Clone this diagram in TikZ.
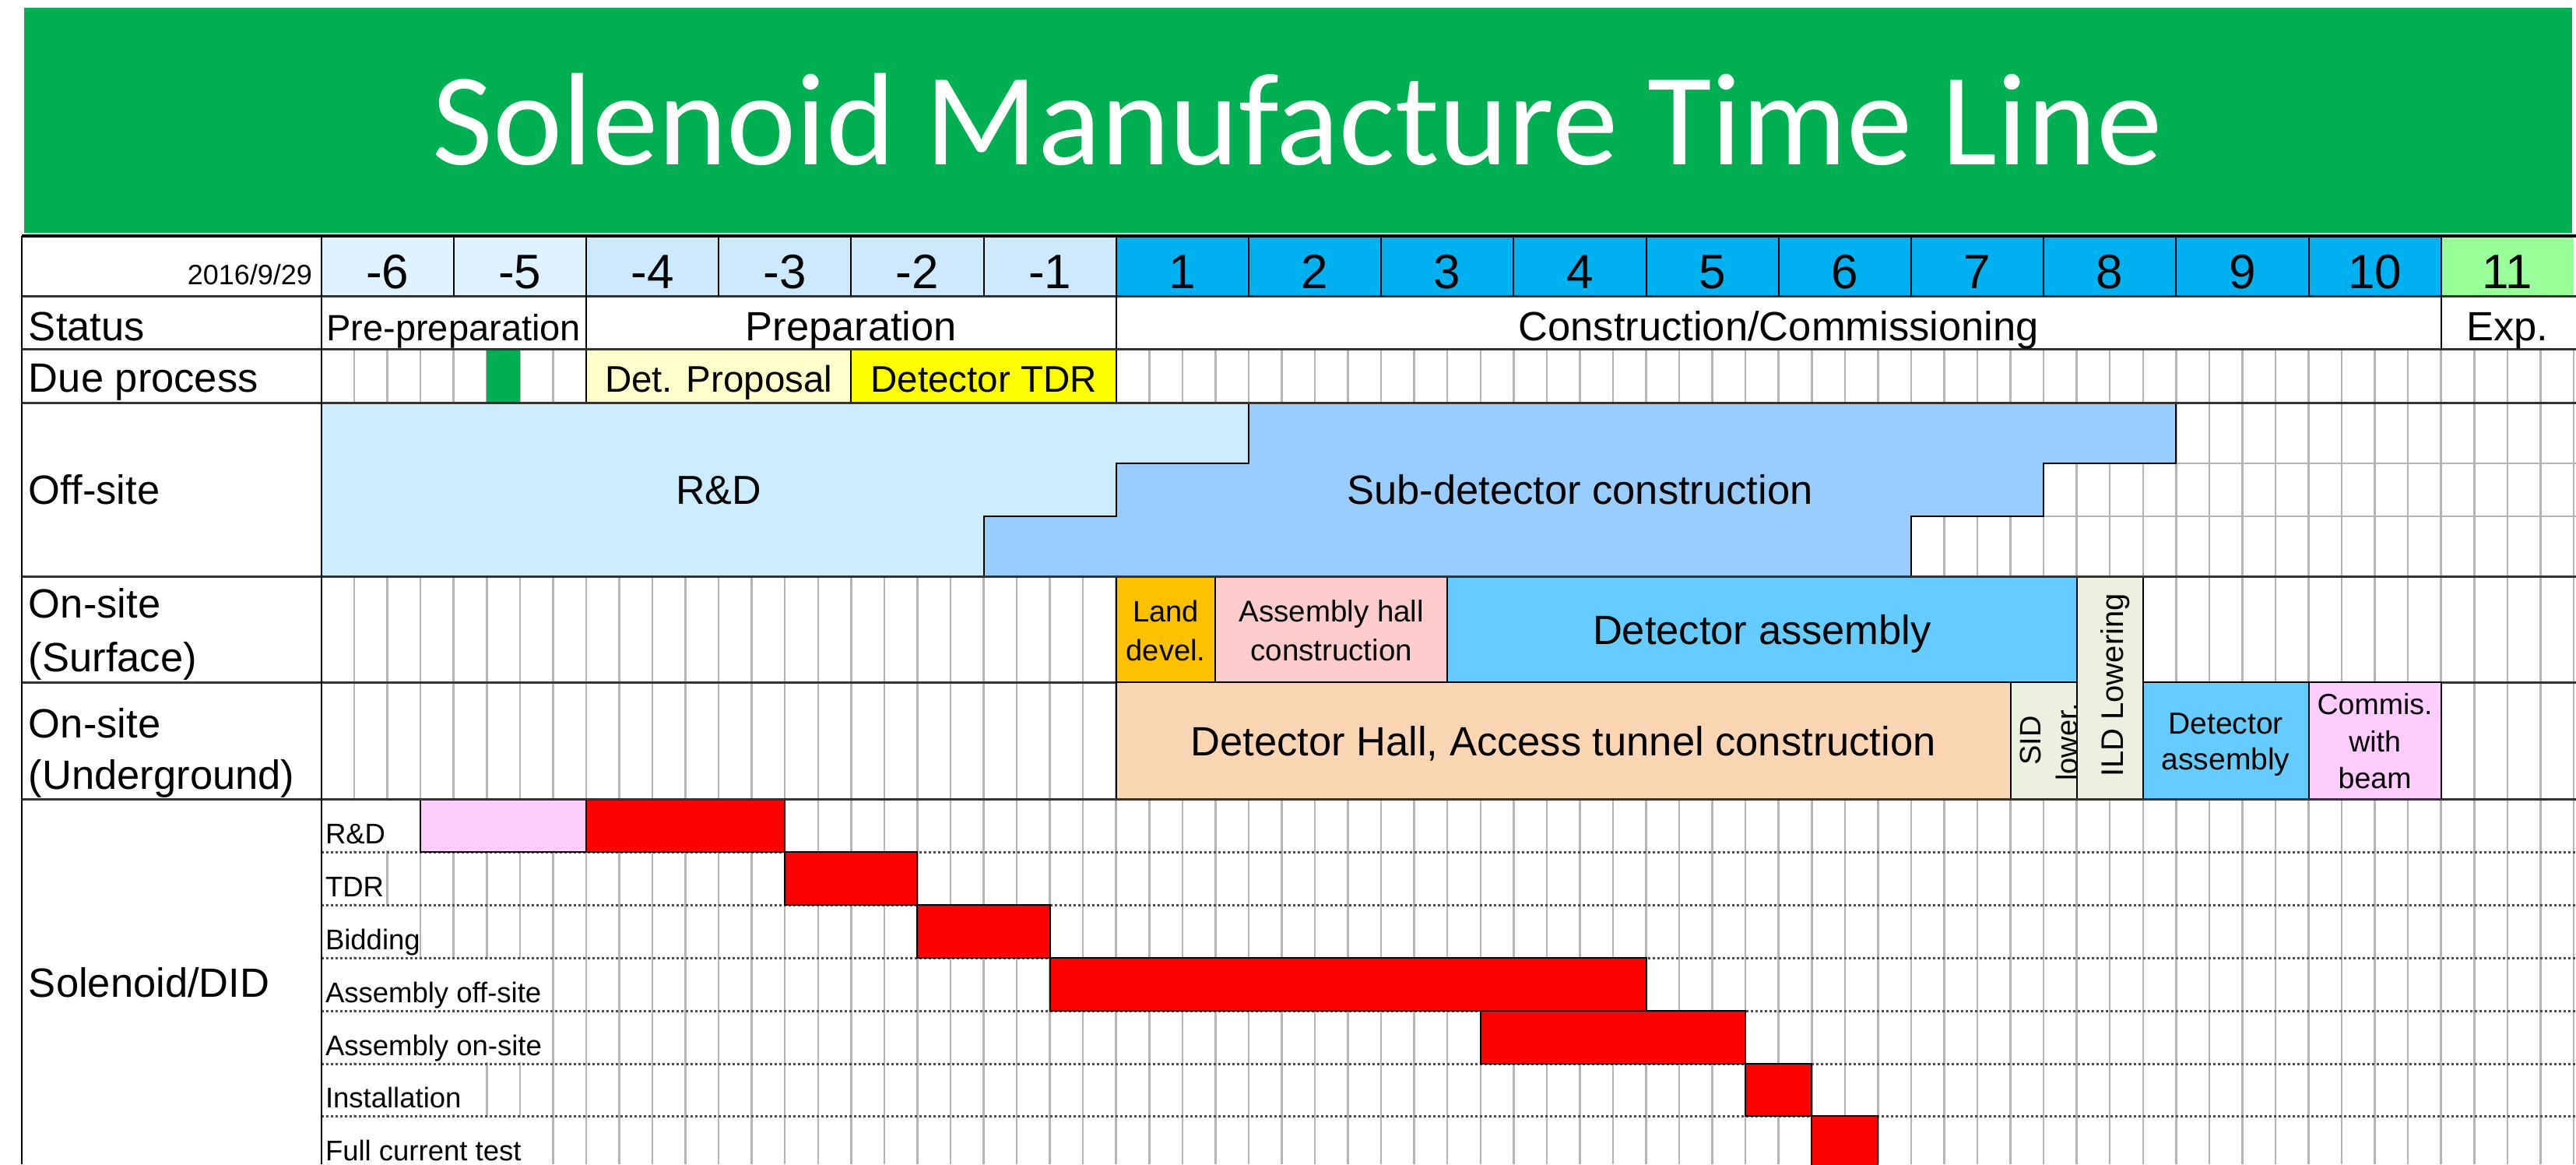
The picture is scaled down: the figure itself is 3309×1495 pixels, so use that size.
\documentclass[tikz,border=0pt]{standalone}
\usepackage{fontspec}
\setmainfont{Liberation Sans}
\newfontfamily\titlefont{Carlito}
\definecolor{ttlgreen}{HTML}{00B050}
\definecolor{hdrA}{HTML}{DFF2FF}
\definecolor{hdrB}{HTML}{CCE9FD}
\definecolor{hdrC}{HTML}{00B0F0}
\definecolor{hdrD}{HTML}{99FF99}
\definecolor{propY}{HTML}{FFFFCC}
\definecolor{tdrY}{HTML}{FFFF00}
\definecolor{rdBlue}{HTML}{CCECFF}
\definecolor{subBlue}{HTML}{99CCFF}
\definecolor{landOr}{HTML}{FFC000}
\definecolor{hallPink}{HTML}{FFCCCC}
\definecolor{assyBlue}{HTML}{66CCFF}
\definecolor{tunnel}{HTML}{FCD5B4}
\definecolor{lowerG}{HTML}{EBF1DE}
\definecolor{commPink}{HTML}{FFCCFF}
\definecolor{barRed}{HTML}{FF0000}
\definecolor{gridG}{HTML}{B4B4B4}
\newcommand{\qx}[1]{(412.5+42.55*(#1))}
\newcommand{\fsz}[1]{\fontsize{#1}{#1}\selectfont}
\newcommand{\qbox}[5]{\draw[box,fill=#5] ({\qx{#1}},#3) rectangle ({\qx{#2}},#4);}
\tikzset{
  gridline/.style={draw=gridG, line width=0.5pt},
  dotline/.style={draw=black!70, line width=0.6pt, dash pattern=on 0.6pt off 0.6pt},
  rowline/.style={draw=black!80, line width=0.6pt},
  hdrline/.style={draw=black, line width=0.4pt},
  topline/.style={draw=black, line width=0.8pt},
  box/.style={draw=black, line width=0.4pt},
  lbl/.style={anchor=base west, inner sep=0pt},
  ctr/.style={anchor=base, inner sep=0pt},
}
\begin{document}
\begin{tikzpicture}[x=0.2pt,y=-0.2pt]
\useasboundingbox (0,0) rectangle (3309,1495);
\clip (0,0) rectangle (3309,1495);
\fill[white] (0,0) rectangle (3309,1495);
% title banner
\fill[ttlgreen] (31,10) rectangle (3304,299);
\node[ctr, text=white, font=\titlefont\fsz{33.8}] (title) at (1667,211) {Solenoid Manufacture Time Line};
% header fills
\fill[hdrA] ({\qx{0}},303) rectangle ({\qx{8}},380);
\fill[hdrB] ({\qx{8}},303) rectangle ({\qx{24}},380);
\fill[hdrC] ({\qx{24}},303) rectangle ({\qx{64}},380);
\fill[hdrD] ({\qx{64}},303) rectangle ({\qx{68}},380);
% quarter grid
\foreach \i in {1,...,68} \draw[gridline] ({\qx{\i}},448) -- ({\qx{\i}},1495);
\draw[gridline] ({\qx{0}},595) -- (3309,595);
\draw[gridline] ({\qx{0}},663) -- (3309,663);
% white patches behind overflowing sub-labels
\fill[white] (414,1028) rectangle ({\qx{3}-1.5},1092);
\fill[white] (414,1096) rectangle ({\qx{2}-1.5},1160);
\fill[white] (414,1164) rectangle ({\qx{3}-1.5},1228);
\fill[white] (414,1232) rectangle ({\qx{7}-1.5},1296);
\fill[white] (414,1300) rectangle ({\qx{7}-1.5},1364);
\fill[white] (414,1368) rectangle ({\qx{5}-1.5},1431);
\fill[white] (414,1435) rectangle ({\qx{7}-1.5},1495);
% dotted sub-row lines
\foreach \yy in {1094,1162,1230,1298,1366,1433} \draw[dotline] ({\qx{0}},\yy) -- (3309,\yy);
\draw[rowline] (28,876) -- (3309,876);
% due process
\fill[ttlgreen] ({\qx{5}},449) rectangle ({\qx{6}},516);
\qbox{8}{16}{448}{517}{propY}
\qbox{16}{24}{448}{517}{tdrY}
% off-site staircase
\fill[rdBlue] ({\qx{0}},517) -- ({\qx{28}},517) -- ({\qx{28}},595) -- ({\qx{24}},595) -- ({\qx{24}},663) -- ({\qx{20}},663) -- ({\qx{20}},740) -- ({\qx{0}},740) -- cycle;
\draw[box,fill=subBlue] ({\qx{28}},517) -- ({\qx{56}},517) -- ({\qx{56}},595) -- ({\qx{52}},595) -- ({\qx{52}},663) -- ({\qx{48}},663) -- ({\qx{48}},740) -- ({\qx{20}},740) -- ({\qx{20}},663) -- ({\qx{24}},663) -- ({\qx{24}},595) -- ({\qx{28}},595) -- cycle;
% on-site surface
\qbox{24}{27}{740}{876}{landOr}
\qbox{27}{34}{740}{876}{hallPink}
\qbox{34}{53}{740}{876}{assyBlue}
\qbox{53}{55}{740}{1026}{lowerG}
% on-site underground
\qbox{24}{51}{876}{1026}{tunnel}
\qbox{51}{53}{876}{1026}{lowerG}
\qbox{55}{60}{876}{1026}{assyBlue}
\qbox{60}{64}{876}{1026}{commPink}
% solenoid bars
\qbox{3}{8}{1026}{1094}{commPink}
\qbox{8}{14}{1026}{1094}{barRed}
\qbox{14}{18}{1094}{1162}{barRed}
\qbox{18}{22}{1162}{1230}{barRed}
\qbox{22}{40}{1230}{1298}{barRed}
\qbox{35}{43}{1298}{1366}{barRed}
\qbox{43}{45}{1366}{1433}{barRed}
\qbox{45}{47}{1433}{1501}{barRed}
% row lines
\foreach \yy in {380,448,517,740,1026} \draw[rowline] (28,\yy) -- (3309,\yy);
\foreach \k in {1,...,16} \draw[hdrline] ({\qx{4*\k}},303) -- ({\qx{4*\k}},380);
\foreach \k in {8,24,64} \draw[hdrline] ({\qx{\k}},380) -- ({\qx{\k}},448);
\draw[hdrline] ({\qx{0}},303) -- ({\qx{0}},1495);
\draw[hdrline] (28,303) -- (28,1495);
\draw[topline] (28,303) -- (3309,303);
% header texts
\node[anchor=base east, inner sep=0pt, font=\fsz{7.2}] (date) at (402,365) {2016/9/29};
\foreach \lab [count=\k from 0] in {-6,-5,-4,-3,-2,-1,1,2,3,4,5,6,7,8,9,10,11}
  \node[ctr, font=\fsz{12.4}] (yr\k) at ({\qx{4*\k+2}},370) {\lab};
% status row
\node[lbl, font=\fsz{10.5}] (status) at (36,437) {Status};
\node[ctr, font=\fsz{9.4}] (preprep) at ({\qx{4}},437) {Pre-preparation};
\node[ctr, font=\fsz{10.5}] (prep) at ({\qx{16}},437) {Preparation};
\node[ctr, font=\fsz{10.5}] (constr) at ({\qx{44}},437) {Construction/Commissioning};
\node[ctr, font=\fsz{10.5}] (exp) at ({\qx{66}},437) {Exp.};
% due process row
\node[lbl, font=\fsz{10.5}] (due) at (36,503) {Due process};
\node[ctr, font=\fsz{9.5}] (detprop) at ({\qx{12}},503) {Det. Proposal};
\node[ctr, font=\fsz{9.5}] (dettdr) at ({\qx{20}},503) {Detector TDR};
% off-site
\node[lbl, font=\fsz{10.5}] (offsite) at (36,647) {Off-site};
\node[ctr, font=\fsz{10.4}] (rnd) at ({\qx{12}},647) {R\&D};
\node[ctr, font=\fsz{10.5}] (subdet) at ({\qx{38}},647) {Sub-detector construction};
% on-site surface
\node[lbl, font=\fsz{10.5}] (surfA) at (36,793) {On-site};
\node[lbl, font=\fsz{10.5}] (surfB) at (36,862) {(Surface)};
\node[ctr, font=\fsz{7.6}] (landA) at ({\qx{25.5}},798) {Land};
\node[ctr, font=\fsz{7.6}] (landB) at ({\qx{25.5}},848) {devel.};
\node[ctr, font=\fsz{7.7}] (hallA) at ({\qx{30.5}},798) {Assembly hall};
\node[ctr, font=\fsz{7.7}] (hallB) at ({\qx{30.5}},848) {construction};
\node[ctr, font=\fsz{10.5}] (detassy) at ({\qx{43.5}},827) {Detector assembly};
\node[ctr, rotate=90, font=\fsz{8}] (ild) at (2727,880) {ILD Lowering};
% on-site underground
\node[lbl, font=\fsz{10.5}] (ugA) at (36,947) {On-site};
\node[lbl, font=\fsz{10.5}] (ugB) at (36,1013) {(Underground)};
\node[ctr, font=\fsz{10.5}] (hall) at ({\qx{37.5}},970) {Detector Hall, Access tunnel construction};
\node[ctr, rotate=90, font=\fsz{7.6}] (sidA) at (2621,951) {SID};
\node[ctr, rotate=90, font=\fsz{7.6}] (sidB) at (2668,953) {lower.};
\node[ctr, font=\fsz{7.8}] (ugassyA) at ({\qx{57.5}},942) {Detector};
\node[ctr, font=\fsz{7.8}] (ugassyB) at ({\qx{57.5}},988) {assembly};
\node[ctr, font=\fsz{7.5}] (commA) at ({\qx{62}},917) {Commis.};
\node[ctr, font=\fsz{7.5}] (commB) at ({\qx{62}},965) {with};
\node[ctr, font=\fsz{7.5}] (commC) at ({\qx{62}},1012) {beam};
% solenoid
\node[lbl, font=\fsz{10.5}] (sol) at (36,1280) {Solenoid/DID};
\node[lbl, font=\fsz{7.3}] (sA) at (417,1083) {R\&D};
\node[lbl, font=\fsz{7.3}] (sB) at (417,1151) {TDR};
\node[lbl, font=\fsz{7.3}] (sC) at (417,1219) {Bidding};
\node[lbl, font=\fsz{7.3}] (sD) at (417,1287) {Assembly off-site};
\node[lbl, font=\fsz{7.3}] (sE) at (417,1355) {Assembly on-site};
\node[lbl, font=\fsz{7.3}] (sF) at (417,1422) {Installation};
\node[lbl, font=\fsz{7.3}] (sG) at (417,1490) {Full current test};
\end{tikzpicture}
\end{document}
